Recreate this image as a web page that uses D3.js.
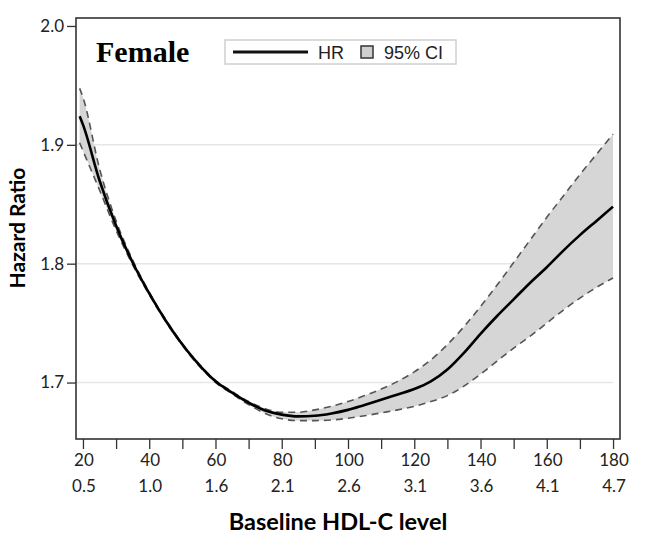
<!DOCTYPE html>
<html lang="en">
<head>
<meta charset="UTF-8">
<title>Female HR</title>
<script src="https://d3js.org/d3.v7.min.js"></script>
<style>
  body { margin: 0; padding: 0; background: #fff; }
</style>
</head>
<body>
<script>
  // data
  let hdl = [19, 20, 25, 30, 35, 40, 45, 50, 55, 60, 65, 70, 75, 80, 85, 90, 95, 100, 105, 110,
             115, 120, 125, 130, 135, 140, 145, 150, 155, 160, 165, 170, 175, 180]
  let hr = [1.924, 1.917, 1.870, 1.832, 1.801, 1.775, 1.752, 1.732, 1.715, 1.701, 1.6915, 1.683, 1.6765, 1.673,
            1.6715, 1.672, 1.674, 1.677, 1.6812, 1.6855, 1.690, 1.6945, 1.701, 1.711, 1.725, 1.741, 1.756, 1.770,
            1.784, 1.797, 1.811, 1.824, 1.836, 1.848]
  let upper = [1.9475, 1.940, 1.880, 1.836, 1.803, 1.776, 1.7528, 1.7328, 1.7158, 1.7018, 1.6925, 1.684, 1.678, 1.675,
               1.675, 1.677, 1.680, 1.684, 1.689, 1.6945, 1.701, 1.709, 1.719, 1.732, 1.747, 1.764, 1.782, 1.801,
               1.820, 1.839, 1.857, 1.875, 1.892, 1.909]
  let lower = [1.9017, 1.895, 1.862, 1.828, 1.799, 1.774, 1.7512, 1.7312, 1.7142, 1.7002, 1.6905, 1.6815, 1.674, 1.6695,
               1.668, 1.668, 1.6685, 1.670, 1.672, 1.6745, 1.677, 1.680, 1.684, 1.689, 1.697, 1.707, 1.718, 1.729,
               1.739, 1.750, 1.761, 1.771, 1.780, 1.788]
  let xTicks = [20, 40, 60, 80, 100, 120, 140, 160, 180]
  let mmolLabels = ["0.5", "1.0", "1.6", "2.1", "2.6", "3.1", "3.6", "4.1", "4.7"]
  let yTicks = [1.7, 1.8, 1.9, 2.0]

  let width = 645
  let height = 539
  let plotL = 76, plotR = 620, plotT = 18, plotB = 439

  let svg = d3.select("body")
    .append("svg")
    .attr("width", width)
    .attr("height", height)

  let x = d3.scaleLinear().domain([17.9, 182.1]).range([plotL, plotR])
  let y = d3.scaleLinear().domain([1.6525, 2.0067]).range([plotB, plotT])

  let rows = hdl.map((d, i) => ({ x: d, hr: hr[i], up: upper[i], lo: lower[i] }))

  // grid
  svg.append("g")
    .selectAll("line")
    .data(yTicks.filter(d => d < 2))
    .join("line")
    .attr("x1", plotL)
    .attr("x2", x(180))
    .attr("y1", d => y(d))
    .attr("y2", d => y(d))
    .attr("stroke", "#e6e6e6")
    .attr("stroke-width", 1.5)

  // CI band
  svg.append("path")
    .datum(rows)
    .attr("fill", "#d6d6d6")
    .attr("d", d3.area().curve(d3.curveMonotoneX)
      .x(d => x(d.x)).y0(d => y(d.lo)).y1(d => y(d.up)))

  let dashed = ["up", "lo"]
  dashed.forEach(k => {
    svg.append("path")
      .datum(rows)
      .attr("fill", "none")
      .attr("stroke", "#555")
      .attr("stroke-width", 1.6)
      .attr("stroke-dasharray", "7,5")
      .attr("d", d3.line().curve(d3.curveMonotoneX).x(d => x(d.x)).y(d => y(d[k])))
  })

  svg.append("path")
    .datum(rows)
    .attr("fill", "none")
    .attr("stroke", "#000")
    .attr("stroke-width", 2.6)
    .attr("d", d3.line().curve(d3.curveMonotoneX).x(d => x(d.x)).y(d => y(d.hr)))

  // frame
  svg.append("rect")
    .attr("x", plotL)
    .attr("y", plotT)
    .attr("width", plotR - plotL)
    .attr("height", plotB - plotT)
    .attr("fill", "none")
    .attr("stroke", "#333")
    .attr("stroke-width", 1.6)

  // x axis
  let xAxis = svg.append("g")
    .attr("transform", "translate(0," + plotB + ")")
    .call(d3.axisBottom(x).tickValues(d3.range(20, 181, 10)).tickSize(10).tickFormat(""))
  xAxis.select(".domain").remove()
  xAxis.selectAll("line").attr("stroke", "#333").attr("stroke-width", 1.3)

  svg.append("g")
    .selectAll("text")
    .data(xTicks)
    .join("text")
    .attr("x", d => x(d) + 1)
    .attr("y", 466)
    .attr("text-anchor", "middle")
    .style("font-family", "Lato, 'Open Sans', sans-serif")
    .style("font-size", "17px")
    .attr("fill", "#222")
    .text(d => d)

  svg.append("g")
    .selectAll("text")
    .data(mmolLabels)
    .join("text")
    .attr("x", (d, i) => x(xTicks[i]) + 1)
    .attr("y", 492)
    .attr("text-anchor", "middle")
    .style("font-family", "Lato, 'Open Sans', sans-serif")
    .style("font-size", "17px")
    .attr("fill", "#222")
    .text(d => d)

  // y axis
  let yAxis = svg.append("g")
    .attr("transform", "translate(" + plotL + ",0)")
    .call(d3.axisLeft(y).tickValues(yTicks).tickSize(9).tickPadding(3).tickFormat(d3.format(".1f")))
  yAxis.select(".domain").remove()
  yAxis.selectAll("line").attr("stroke", "#333").attr("stroke-width", 1.3)
  yAxis.selectAll("text")
    .style("font-family", "Lato, 'Open Sans', sans-serif")
    .style("font-size", "17px")
    .attr("fill", "#222")

  // axis titles
  svg.append("text")
    .attr("x", 338)
    .attr("y", 530)
    .attr("text-anchor", "middle")
    .style("font-family", "Lato, 'Open Sans', sans-serif")
    .style("font-weight", "bold")
    .style("font-size", "23.5px")
    .text("Baseline HDL-C level")

  svg.append("text")
    .attr("transform", "translate(25,228) rotate(-90)")
    .attr("text-anchor", "middle")
    .style("font-family", "Lato, 'Open Sans', sans-serif")
    .style("font-weight", "bold")
    .style("font-size", "21px")
    .text("Hazard Ratio")

  // title inside
  svg.append("text")
    .attr("x", 96)
    .attr("y", 62)
    .style("font-family", "'Liberation Serif', 'DejaVu Serif', serif")
    .style("font-weight", "bold")
    .style("font-size", "30px")
    .text("Female")

  // legend
  let lg = svg.append("g")
  lg.append("rect")
    .attr("x", 225).attr("y", 40).attr("width", 231).attr("height", 24)
    .attr("fill", "#fff").attr("stroke", "#d0d0d0").attr("stroke-width", 1.5)
  lg.append("line")
    .attr("x1", 233).attr("x2", 308).attr("y1", 52).attr("y2", 52)
    .attr("stroke", "#111").attr("stroke-width", 3)
  lg.append("text")
    .attr("x", 318).attr("y", 59)
    .style("font-family", "'Liberation Sans', Arial, sans-serif")
    .style("font-size", "18px")
    .attr("fill", "#222")
    .text("HR")
  lg.append("rect")
    .attr("x", 361).attr("y", 46).attr("width", 12).attr("height", 12)
    .attr("fill", "#cfcfcf").attr("stroke", "#333").attr("stroke-width", 1.5)
  lg.append("text")
    .attr("x", 384).attr("y", 59)
    .style("font-family", "'Liberation Sans', Arial, sans-serif")
    .style("font-size", "18px")
    .attr("fill", "#222")
    .text("95% CI")
</script>
</body>
</html>
